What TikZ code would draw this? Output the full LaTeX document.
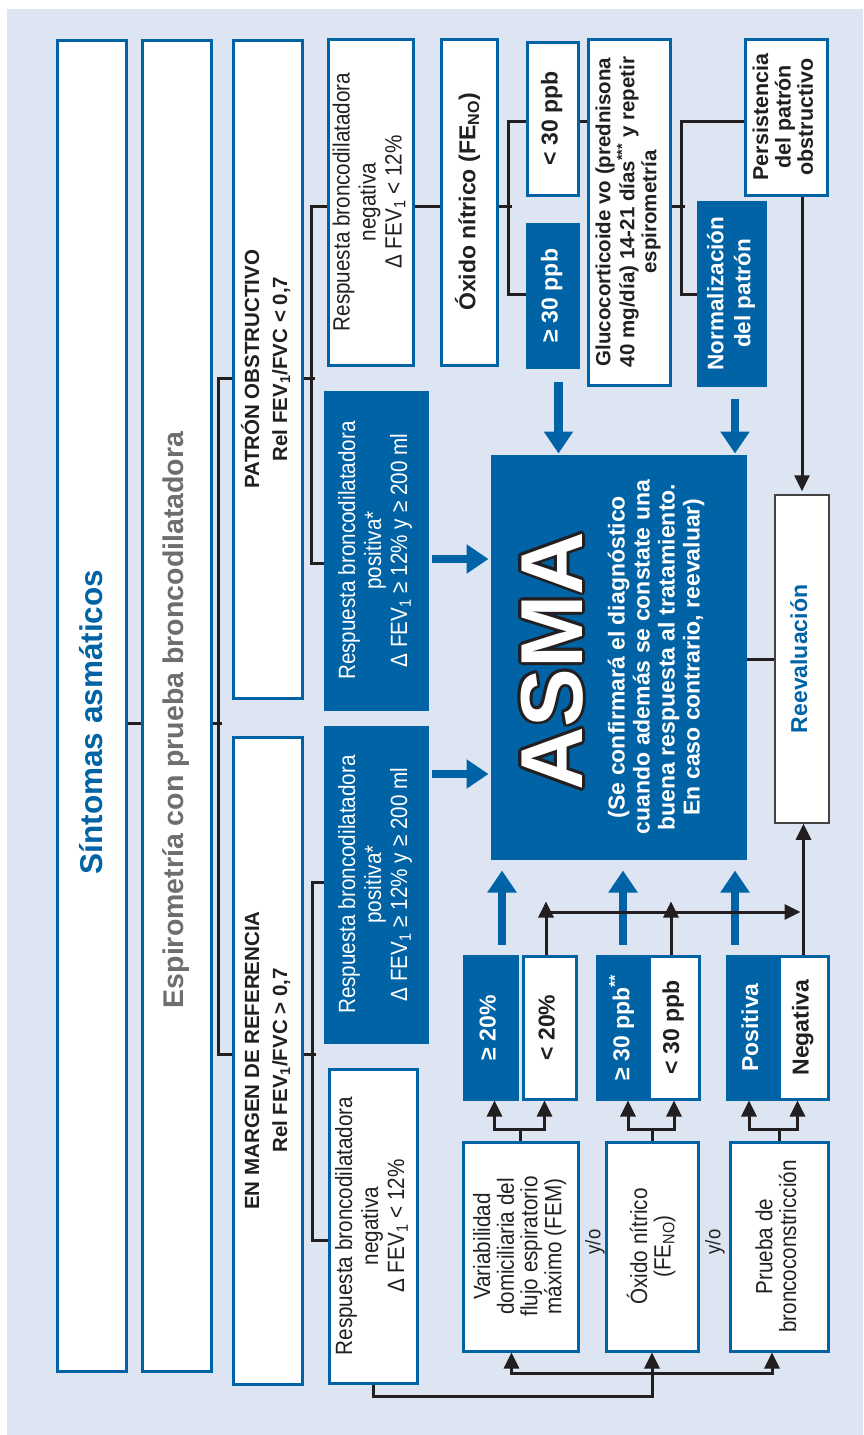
\documentclass[tikz,border=0pt]{standalone}
\usepackage{fontspec}
\setmainfont{Liberation Sans}
\newfontfamily\estrecha{Liberation Sans}[FakeStretch=0.88]
\usepackage{graphicx}
\usepackage{contour}
\contourlength{2.8pt}
\usetikzlibrary{arrows.meta}
\definecolor{fondo}{RGB}{221,229,242}
\definecolor{azul}{RGB}{0,99,166}
\definecolor{gris}{RGB}{109,110,113}
\definecolor{linea}{RGB}{35,31,32}
\newcommand{\girado}[1]{\rotatebox{90}{\begin{tabular}{@{}c@{}}#1\end{tabular}}}
\tikzset{
  caja/.style={draw=azul, line width=3pt, fill=white, inner sep=0pt, text=linea},
  cajaazul/.style={caja, fill=azul, text=white},
  conector/.style={draw=linea, line width=3pt},
  punta/.style={conector, -{Triangle[width=15pt,length=16pt]}},
  flecha/.style={draw=azul, line width=8.5pt, -{Triangle[width=28pt,length=22pt]}},
  txtres/.style={font=\estrecha\fontsize{23.5}{26}\selectfont},
  txtprueba/.style={font=\estrecha\fontsize{23.5}{22}\selectfont},
  txtneg/.style={font=\bfseries\fontsize{20.5}{22}\selectfont},
  txtgrande/.style={font=\bfseries\fontsize{23}{25}\selectfont}
}
\begin{document}
\begin{tikzpicture}[x=1pt,y=-1pt]
  \useasboundingbox (0,0) rectangle (863,1435);
  \fill[fondo] (7,9) rectangle (863,1435);

  \node[caja, minimum width=69pt, minimum height=1331pt] (sint) at (91.5,705.5) {};
  \node[rotate=90, text=azul, font=\bfseries\fontsize{31.5}{34}\selectfont] (sinttxt) at (91.5,722) {Síntomas asmáticos};
  \node[caja, minimum width=69pt, minimum height=1331pt] (espiro) at (176.5,705.5) {};
  \node[rotate=90, text=gris, font=\bfseries\fontsize{28.5}{30}\selectfont] (espirotxt) at (176.5,720) {Espirometría con prueba broncodilatadora};

  \node[caja, minimum width=69pt, minimum height=658pt, font=\bfseries\fontsize{20.5}{28}\selectfont] (patron) at (267.5,369) {\girado{PATRÓN OBSTRUCTIVO\\Rel FEV\textsubscript{1}/FVC < 0,7}};
  \node[caja, minimum width=69pt, minimum height=647pt, font=\bfseries\fontsize{20.5}{28}\selectfont] (margen) at (267.5,1060.5) {\girado{EN MARGEN DE REFERENCIA\\Rel FEV\textsubscript{1}/FVC > 0,7}};

  \node[caja, txtres, minimum width=85pt, minimum height=326pt] (rnegA) at (370.5,202) {\girado{Respuesta broncodilatadora\\negativa\\Δ FEV\textsubscript{1} < 12\%}};
  \node[cajaazul, txtres, minimum width=102pt, minimum height=317pt] (rposA) at (376,550.5) {\girado{Respuesta broncodilatadora\\positiva*\\Δ FEV\textsubscript{1} ≥ 12\% y ≥ 200 ml}};
  \node[cajaazul, txtres, minimum width=102pt, minimum height=315pt] (rposB) at (376,884.5) {\girado{Respuesta broncodilatadora\\positiva*\\Δ FEV\textsubscript{1} ≥ 12\% y ≥ 200 ml}};
  \node[caja, txtres, minimum width=88pt, minimum height=314pt] (rnegB) at (373,1226) {\girado{Respuesta broncodilatadora\\negativa\\Δ FEV\textsubscript{1} < 12\%}};

  \node[caja, txtgrande, minimum width=56pt, minimum height=326pt] (fenoA) at (469,202) {\girado{Óxido nítrico (FE\textsubscript{NO})}};
  \node[caja, txtgrande, minimum width=51pt, minimum height=153pt] (bajoA) at (552.5,118.5) {\girado{< 30 ppb}};
  \node[cajaazul, txtgrande, minimum width=51pt, minimum height=143pt] (altoA) at (552.5,295.5) {\girado{≥ 30 ppb}};
  \node[caja, txtneg, minimum width=82pt, minimum height=346pt] (gluco) at (629,212) {\girado{Glucocorticoide vo (prednisona\\40 mg/día) 14-21 días\textsuperscript{***} y repetir\\espirometría}};
  \node[caja, txtneg, font=\bfseries\fontsize{21.5}{22}\selectfont, minimum width=82pt, minimum height=156pt] (persis) at (786,117) {\girado{Persistencia\\del patrón\\obstructivo}};
  \node[cajaazul, minimum width=67pt, minimum height=183pt, font=\bfseries\fontsize{22.5}{27}\selectfont] (normal) at (731.5,293.5) {\girado{Normalización\\del patrón}};

  \node[cajaazul, minimum width=253pt, minimum height=402pt] (asma) at (618.5,657) {};
  \node[rotate=90, inner sep=0pt, text=white, font=\bfseries\fontsize{88}{88}\selectfont] (asmatxt) at (553.5,661) {\contour{linea}{ASMA}};
  \node[rotate=90, align=center, text=white, txtgrande] (asmanota) at (656,657) {(Se confirmará el diagnóstico\\cuando además se constate una\\buena respuesta al tratamiento.\\En caso contrario, reevaluar)};
  \node[caja, draw=linea!85, line width=1.5pt, txtgrande, text=azul, minimum width=54pt, minimum height=328pt] (reeval) at (802,659) {\girado{Reevaluación}};

  \node[cajaazul, txtgrande, minimum width=53pt, minimum height=143pt] (altoF) at (490.5,1027.5) {\girado{≥ 20\%}};
  \node[caja, txtgrande, minimum width=53pt, minimum height=143pt] (bajoF) at (549.5,1027.5) {\girado{< 20\%}};
  \node[cajaazul, txtgrande, minimum width=52pt, minimum height=143pt] (altoN) at (623,1027.5) {\girado{≥ 30 ppb\textsuperscript{**}}};
  \node[caja, txtgrande, minimum width=50pt, minimum height=143pt] (bajoN) at (674,1027.5) {\girado{< 30 ppb}};
  \node[cajaazul, txtgrande, minimum width=52pt, minimum height=143pt] (posit) at (753,1027.5) {\girado{Positiva}};
  \node[caja, txtgrande, minimum width=49pt, minimum height=143pt] (negat) at (803.5,1027.5) {\girado{Negativa}};

  \node[caja, txtprueba, minimum width=115pt, minimum height=209pt] (fem) at (520.5,1246.5) {\girado{Variabilidad\\domiciliaria del\\flujo espiratorio\\máximo (FEM)}};
  \node[caja, txtprueba, minimum width=92pt, minimum height=209pt] (fenoB) at (652,1246.5) {\girado{Óxido nítrico\\(FE\textsubscript{NO})}};
  \node[caja, txtprueba, minimum width=98pt, minimum height=209pt] (bronco) at (779,1246.5) {\girado{Prueba de\\broncoconstricción}};
  \node[rotate=90, font=\estrecha\fontsize{21}{21}\selectfont, text=linea] (yo1) at (595,1242) {y/o};
  \node[rotate=90, font=\estrecha\fontsize{21}{21}\selectfont, text=linea] (yo2) at (715,1242) {y/o};

  \draw[conector] (sint.east |- 0,723) -- (espiro.west |- 0,723);
  \draw[conector] (espiro.east |- 0,723) -- ++(9,0);
  \draw[conector] (patron.west |- 0,378) -- ++(-13,0) |- (margen.west |- 0,1054);
  \draw[conector] (patron.east |- 0,378) -- ++(11,0);
  \draw[conector] (rnegA.west |- 0,206) -- ++(-15,0) |- (rposA.west |- 0,563);
  \draw[conector] (margen.east |- 0,1054) -- ++(12,0);
  \draw[conector] (rposB.west |- 0,882) -- ++(-11,0) |- (rnegB.west |- 0,1240);
  \draw[conector] (rnegA.east |- 0,206) -- (fenoA.west |- 0,206);
  \draw[conector] (fenoA.east |- 0,206) -- ++(13,0);
  \draw[conector] (bajoA.west |- 0,121) -- ++(-17,0) |- (altoA.west |- 0,294);
  \draw[conector] (bajoA.east |- 0,121) -- (gluco.west |- 0,121);
  \draw[conector] (gluco.east |- 0,206) -- ++(13,0);
  \draw[conector] (persis.west |- 0,121) -- ++(-62,0) |- (normal.west |- 0,294);
  \draw[punta, shorten >=3pt] (reeval.north |- persis.south) -- (reeval.north);
  \draw[conector] (asma.east |- reeval.west) -- (reeval.west);
  \draw[punta] (negat.north) -- (negat.north |- reeval.south);

  \draw[flecha] ([xshift=6pt,yshift=-13pt]altoA.south) -- ++(0,72);
  \draw[flecha] ([xshift=3.5pt,yshift=-12pt]normal.south) -- ++(0,55);
  \draw[flecha, shorten <=3pt, shorten >=2pt] (rposA.east |- 0,559) -- (asma.west |- 0,559);
  \draw[flecha, shorten <=3pt, shorten >=2pt] (rposB.east |- 0,774) -- (asma.west |- 0,774);
  \draw[flecha] ([xshift=11.5pt,yshift=10pt]altoF.north) -- ++(0,-74);
  \draw[flecha] ([yshift=10pt]altoN.north) -- ++(0,-74);
  \draw[flecha] ([xshift=-18pt,yshift=10pt]posit.north) -- ++(0,-74);

  \draw[punta] ([xshift=-3.5pt]bajoF.north) -- ++(0,-53);
  \draw[punta] ([xshift=-3pt]bajoN.north) -- ++(0,-53);
  \draw[punta, shorten >=3pt] (bajoF.north |- 0,912) -- (negat.north |- 0,912);

  \draw[conector] (fem.north) -- ++(0,-11) coordinate (femfork);
  \draw[punta] (femfork) -| ([xshift=4pt]altoF.south);
  \draw[punta] (femfork) -| ([xshift=-5pt]bajoF.south);
  \draw[conector] (fenoB.north) -- ++(0,-11) coordinate (fenofork);
  \draw[punta] (fenofork) -| ([xshift=5pt]altoN.south);
  \draw[punta] (fenofork) -| (bajoN.south);
  \draw[conector] (bronco.north) -- ++(0,-11) coordinate (broncofork);
  \draw[punta] (broncofork) -| ([xshift=-4pt]posit.south);
  \draw[punta] (broncofork) -| ([xshift=-6pt]negat.south);

  \coordinate (reparto) at (fenoB.south |- 0,1373);
  \draw[conector] (rnegB.south) |- (fenoB.south |- 0,1396) -- (reparto);
  \draw[punta] (reparto) -- (fenoB.south);
  \draw[punta] (reparto) -| ([xshift=-9pt]fem.south);
  \draw[punta] (reparto) -| ([xshift=-7pt]bronco.south);
\end{tikzpicture}
\end{document}
